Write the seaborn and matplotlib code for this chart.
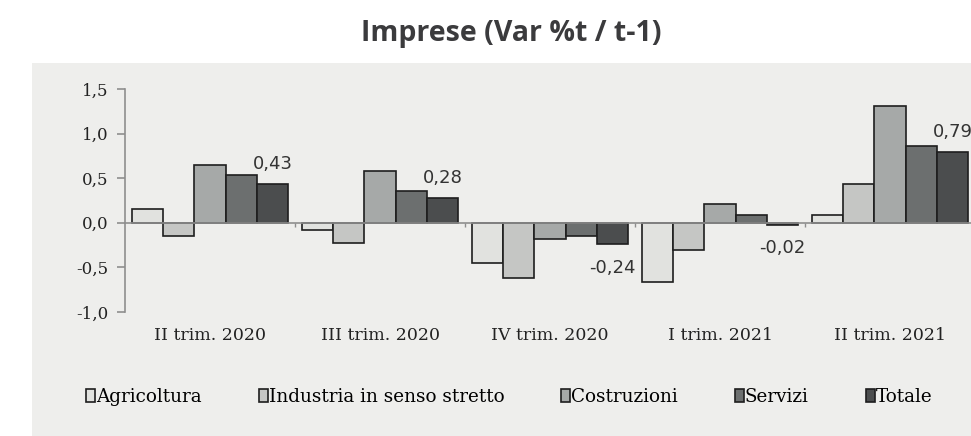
import pandas as pd
import matplotlib
matplotlib.use("Agg")
import matplotlib.pyplot as plt
from matplotlib.patches import Rectangle
import seaborn as sns

periodi = ["II trim. 2020", "III trim. 2020", "IV trim. 2020", "I trim. 2021", "II trim. 2021"]
settori = ["Agricoltura", "Industria in senso stretto", "Costruzioni", "Servizi", "Totale"]
agricoltura = [0.15, -0.08, -0.45, -0.66, 0.09]
industria = [-0.15, -0.23, -0.62, -0.30, 0.44]
costruzioni = [0.65, 0.58, -0.18, 0.21, 1.31]
servizi = [0.54, 0.36, -0.15, 0.09, 0.86]
totale = [0.43, 0.28, -0.24, -0.02, 0.79]
colori = ["#e1e2df", "#c5c6c4", "#a6a9a8", "#6c6f6f", "#4a4d4e"]
yticks = [-1.0, -0.5, 0.0, 0.5, 1.0, 1.5]
ytick_labels = ["-1,0", "-0,5", "0,0", "0,5", "1,0", "1,5"]


def make_chart():
    serie = [agricoltura, industria, costruzioni, servizi, totale]
    rows = []
    for nome, valori in zip(settori, serie):
        for p, v in zip(periodi, valori):
            rows.append({"periodo": p, "settore": nome, "valore": v})
    df = pd.DataFrame(rows)

    fig = plt.figure(figsize=(9.71, 4.36), dpi=100, facecolor="white")
    # grey panel behind the plot
    fig.patches.append(Rectangle((32 / 971, 0), 1 - 32 / 971, 1 - 63 / 436,
                                 transform=fig.transFigure, facecolor="#eeeeec",
                                 edgecolor="none", zorder=-1))

    ax = fig.add_axes([125 / 971, 124 / 436, 850 / 971, 223 / 436])
    ax.set_facecolor("none")

    sns.barplot(data=df, x="periodo", y="valore", hue="settore", order=periodi,
                hue_order=settori, palette=colori, width=0.92, errorbar=None,
                edgecolor="#1e1e1e", linewidth=1.2, ax=ax)

    ax.set_xlim(-0.5, 4.5)
    ax.set_ylim(-1.0, 1.5)
    ax.set_xlabel("")
    ax.set_ylabel("")

    grigio = "#8e8e8e"
    for s in ["top", "right"]:
        ax.spines[s].set_visible(False)
    ax.spines["left"].set_color(grigio)
    ax.spines["left"].set_linewidth(1.2)
    ax.spines["bottom"].set_position(("data", 0))
    ax.spines["bottom"].set_color(grigio)
    ax.spines["bottom"].set_linewidth(1.2)
    ax.spines["bottom"].set_zorder(5)

    ax.set_yticks(yticks)
    ax.set_yticklabels(ytick_labels, fontfamily="DejaVu Serif", fontsize=12, color="#222222")
    ax.tick_params(axis="y", length=6, width=1.2, color=grigio, pad=6)
    ax.set_xticks([0.5, 1.5, 2.5, 3.5])
    ax.set_xticklabels([])
    ax.tick_params(axis="x", length=3, width=1.0, color=grigio)

    for i, p in enumerate(periodi):
        ax.text(i, -0.105, p, transform=ax.get_xaxis_transform(), ha="center", va="center",
                fontfamily="DejaVu Serif", fontsize=12.5, color="#222222")

    for bar, v in zip(ax.containers[-1], totale):
        x = bar.get_x() + bar.get_width() / 2
        off = 14.5 if v >= 0 else -17
        ax.annotate(f"{v:.2f}".replace(".", ","), xy=(x, v), xytext=(0, off),
                    textcoords="offset points", ha="center", va="center",
                    fontfamily="DejaVu Sans", fontsize=13, color="#333333",
                    annotation_clip=False)

    sns.move_legend(ax, "center left", bbox_to_anchor=(86 / 971, 39 / 436),
                    bbox_transform=fig.transFigure, ncol=5, frameon=False, title=None,
                    handlelength=0.5, handleheight=0.7, handletextpad=0.05,
                    columnspacing=3.1, borderaxespad=0, borderpad=0,
                    prop={"family": "DejaVu Serif", "size": 13.2})

    fig.text(511 / 971, 1 - 34 / 436, "Imprese (Var %t / t-1)", ha="center", va="center",
             fontfamily="Open Sans", fontweight="bold", fontsize=20.5, color="#3b3b3d")

    fig.savefig("out.png", dpi=100)
    plt.close(fig)


if __name__ == "__main__":
    make_chart()
